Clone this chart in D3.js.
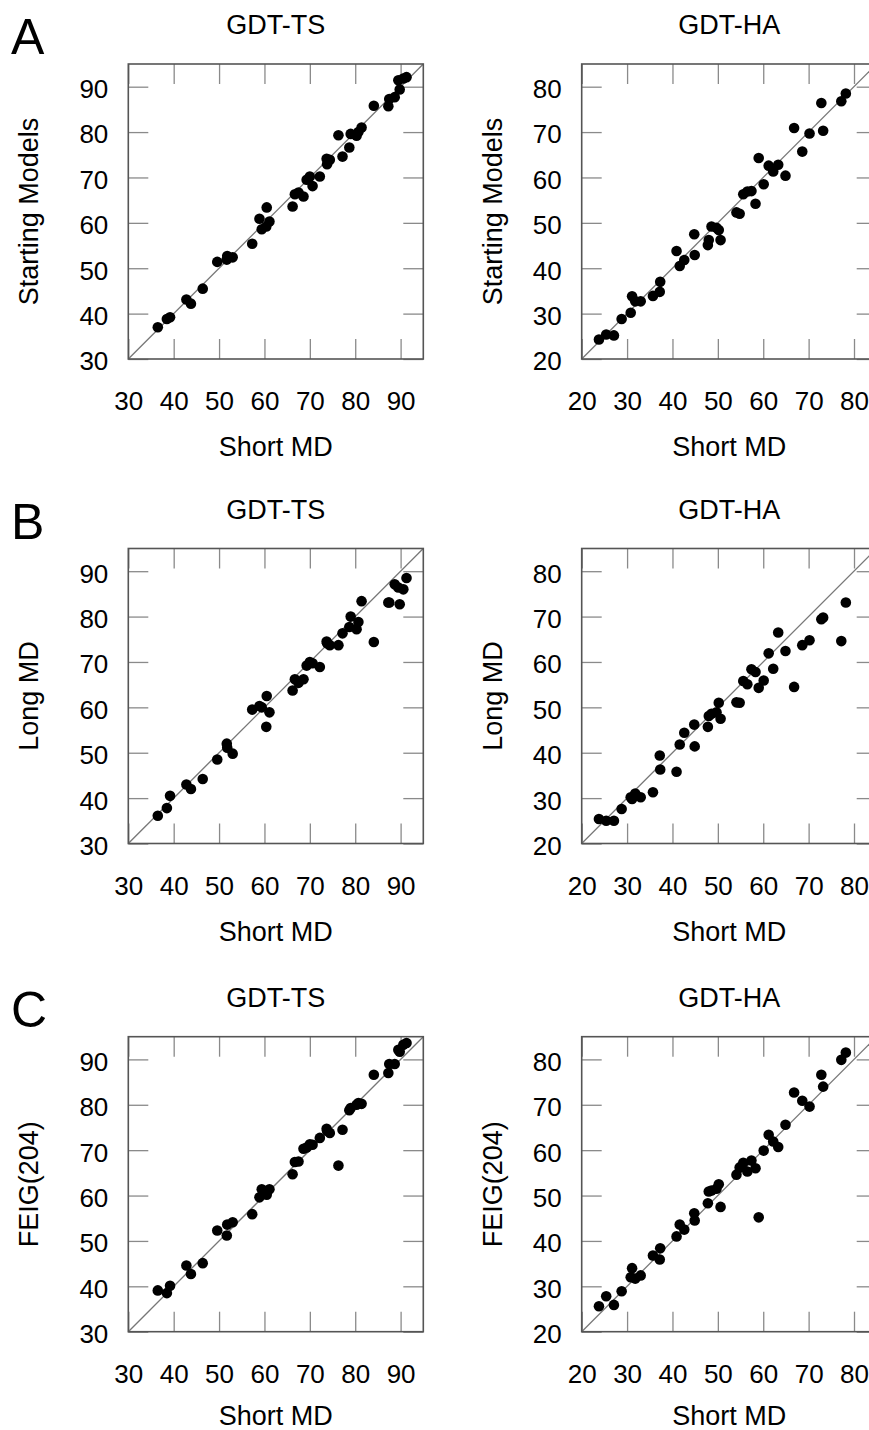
<!DOCTYPE html>
<html>
<head>
<meta charset="utf-8">
<script src="https://cdn.jsdelivr.net/npm/d3@7"></script>
<style>
  html, body { margin: 0; padding: 0; background: #fff; }
  svg { display: block; }
  text { font-family: "Liberation Sans", Arial, Helvetica, sans-serif; }
</style>
</head>
<body>
<svg id="chart" width="869" height="1430"></svg>
<script>
// ---------------- DATA ----------------
// GDT-TS: Short MD (x) shared by the three rows
const tsShortMD = [36.5, 38.5, 39.2, 42.8, 43.8, 46.4, 49.6, 51.7, 51.8, 53.0, 57.3, 58.9, 59.4, 60.4, 60.5, 61.1, 66.2, 66.7, 67.5, 68.6, 69.3, 70.0, 70.6, 72.2, 73.7, 73.8, 74.4, 76.3, 77.2, 78.7, 79.0, 80.3, 80.7, 81.4, 84.1, 87.3, 87.5, 88.7, 89.5, 89.8, 90.6, 91.3];
const tsStarting = [37.0, 38.8, 39.2, 43.1, 42.2, 45.5, 51.4, 51.9, 52.7, 52.4, 55.4, 60.9, 58.6, 59.2, 63.4, 60.3, 63.6, 66.3, 66.7, 65.8, 69.5, 70.2, 68.1, 70.2, 74.1, 72.9, 73.9, 79.3, 74.6, 76.6, 79.6, 79.2, 80.0, 81.0, 85.8, 85.7, 87.3, 87.7, 91.4, 89.4, 91.8, 92.1];
const tsLong = [36.1, 37.8, 40.5, 43.0, 42.0, 44.2, 48.5, 52.0, 51.1, 49.8, 59.5, 60.3, 60.0, 55.7, 62.5, 58.9, 63.7, 66.2, 65.4, 66.2, 69.2, 70.0, 69.7, 68.9, 74.5, 74.1, 73.7, 73.7, 76.3, 77.7, 80.0, 77.2, 78.8, 83.4, 74.4, 83.1, 83.1, 87.1, 86.4, 82.7, 86.0, 88.5];
const tsFEIG = [39.1, 38.5, 40.1, 44.6, 42.7, 45.1, 52.3, 51.2, 53.6, 54.1, 55.9, 59.6, 61.4, 60.9, 60.2, 61.4, 64.7, 67.4, 67.5, 70.3, 70.6, 71.3, 71.2, 72.7, 74.7, 74.3, 73.8, 66.6, 74.5, 78.8, 79.3, 80.0, 80.4, 80.2, 86.6, 87.0, 89.0, 89.0, 92.1, 91.7, 93.2, 93.6];

// GDT-HA: Short MD (x) shared by the three rows
const haShortMD = [23.8, 25.4, 27.1, 28.8, 30.8, 31.1, 31.8, 33.0, 35.7, 37.2, 37.3, 40.9, 41.6, 42.6, 44.8, 44.9, 47.8, 48.0, 48.6, 49.7, 50.2, 50.6, 54.1, 54.8, 55.6, 56.5, 57.4, 58.3, 59.0, 60.1, 61.2, 62.2, 63.3, 64.9, 66.8, 68.6, 70.2, 72.8, 73.2, 77.2, 78.2];
const haStarting = [24.3, 25.4, 25.2, 28.8, 30.2, 33.8, 32.7, 32.7, 33.9, 34.8, 37.0, 43.8, 40.5, 41.8, 47.5, 42.9, 45.1, 46.2, 49.2, 48.9, 48.4, 46.2, 52.3, 52.0, 56.3, 56.9, 57.0, 54.2, 64.3, 58.5, 62.6, 61.3, 62.8, 60.4, 70.9, 65.7, 69.7, 76.4, 70.3, 76.8, 78.5];
const haLong = [25.4, 25.0, 25.0, 27.6, 30.2, 29.8, 31.0, 30.2, 31.3, 39.4, 36.3, 35.8, 41.8, 44.4, 46.2, 41.4, 45.7, 48.1, 48.6, 48.9, 51.0, 47.5, 51.1, 51.0, 55.8, 55.1, 58.4, 57.8, 54.3, 55.9, 61.9, 58.5, 66.5, 62.4, 54.5, 63.7, 64.8, 69.4, 69.8, 64.6, 73.1];
const haFEIG = [25.6, 27.8, 25.9, 28.9, 32.0, 34.0, 31.7, 32.4, 36.8, 35.9, 38.4, 41.0, 43.6, 42.5, 46.1, 44.5, 48.3, 50.9, 51.1, 51.5, 52.5, 47.5, 54.6, 56.2, 57.2, 55.3, 57.7, 56.0, 45.2, 59.9, 63.4, 61.9, 60.7, 65.6, 72.7, 70.9, 69.6, 76.6, 74.0, 79.9, 81.5];

const panelLetters = ["A", "B", "C"];
const rowLabels = ["Starting Models", "Long MD", "FEIG(204)"];
const colTitles = ["GDT-TS", "GDT-HA"];
const xLabel = "Short MD";
const tsDomain = [30, 95];
const haDomain = [20, 85];
const tsTicks = [30, 40, 50, 60, 70, 80, 90];
const haTicks = [20, 30, 40, 50, 60, 70, 80];

// ---------------- LAYOUT ----------------
const SIZE = 295;
const colX = [128.3, 581.7];
const rowY = [64, 548.5, 1036.7];
const ylabOffset = [90, 80];
const H = 1430;
const FONT = "'Liberation Sans', Arial, Helvetica, sans-serif";
const LABEL_SIZE = 27;

const svg = d3.select("#chart");

const cols = [
  { title: colTitles[0], domain: tsDomain, ticks: tsTicks, x: tsShortMD, ys: [tsStarting, tsLong, tsFEIG] },
  { title: colTitles[1], domain: haDomain, ticks: haTicks, x: haShortMD, ys: [haStarting, haLong, haFEIG] }
];

function styleAxis(g, withText) {
  g.attr("font-family", FONT).attr("font-size", 26);
  g.select(".domain").remove();
  g.selectAll(".tick line").attr("stroke", "#8a8a8a").attr("stroke-width", 1.3);
  if (withText) g.selectAll(".tick text").attr("fill", "#000");
}

rowY.forEach((y0, ri) => {
  // panel letter
  svg.append("text")
    .attr("x", 11).attr("y", y0 - 10)
    .attr("font-size", 50).attr("font-family", FONT).attr("fill", "#000")
    .text(panelLetters[ri]);

  cols.forEach((c, ci) => {
    const x0 = colX[ci];
    const x = d3.scaleLinear().domain(c.domain).range([x0, x0 + SIZE]);
    const y = d3.scaleLinear().domain(c.domain).range([y0 + SIZE, y0]);

    // title
    svg.append("text")
      .attr("x", x0 + SIZE / 2).attr("y", y0 - 30)
      .attr("text-anchor", "middle")
      .attr("font-size", LABEL_SIZE).attr("font-family", FONT).attr("fill", "#000")
      .text(c.title);

    // x label
    svg.append("text")
      .attr("x", x0 + SIZE / 2).attr("y", Math.min(y0 + SIZE + 97, H - 5))
      .attr("text-anchor", "middle")
      .attr("font-size", LABEL_SIZE).attr("font-family", FONT).attr("fill", "#000")
      .text(xLabel);

    // y label
    svg.append("text")
      .attr("transform", `translate(${x0 - ylabOffset[ci]},${y0 + SIZE / 2}) rotate(-90)`)
      .attr("text-anchor", "middle")
      .attr("font-size", LABEL_SIZE).attr("font-family", FONT).attr("fill", "#000")
      .text(rowLabels[ri]);

    // axes (ticks inward)
    svg.append("g").attr("transform", `translate(0,${y0 + SIZE})`)
      .call(d3.axisBottom(x).tickValues(c.ticks).tickFormat(d3.format("d"))
        .tickSizeInner(-20).tickSizeOuter(0).tickPadding(33))
      .call(g => styleAxis(g, true));
    svg.append("g").attr("transform", `translate(0,${y0})`)
      .call(d3.axisTop(x).tickValues(c.ticks).tickFormat("")
        .tickSizeInner(-20).tickSizeOuter(0))
      .call(g => styleAxis(g, false));
    svg.append("g").attr("transform", `translate(${x0},0)`)
      .call(d3.axisLeft(y).tickValues(c.ticks).tickFormat(d3.format("d"))
        .tickSizeInner(-20).tickSizeOuter(0).tickPadding(20))
      .call(g => { styleAxis(g, true); g.selectAll(".tick text").attr("dy", "0.42em"); });
    svg.append("g").attr("transform", `translate(${x0 + SIZE},0)`)
      .call(d3.axisRight(y).tickValues(c.ticks).tickFormat("")
        .tickSizeInner(-20).tickSizeOuter(0))
      .call(g => styleAxis(g, false));

    // diagonal y = x
    svg.append("line")
      .attr("x1", x(c.domain[0])).attr("y1", y(c.domain[0]))
      .attr("x2", x(c.domain[1])).attr("y2", y(c.domain[1]))
      .attr("stroke", "#777").attr("stroke-width", 1.3);

    // frame
    svg.append("rect")
      .attr("x", x0).attr("y", y0).attr("width", SIZE).attr("height", SIZE)
      .attr("fill", "none").attr("stroke", "#555").attr("stroke-width", 1.6);

    // points
    const pts = c.x.map((v, i) => [v, c.ys[ri][i]]);
    svg.append("g").selectAll("circle").data(pts).join("circle")
      .attr("cx", d => x(d[0])).attr("cy", d => y(d[1]))
      .attr("r", 5.3).attr("fill", "#000");
  });
});
</script>
</body>
</html>
